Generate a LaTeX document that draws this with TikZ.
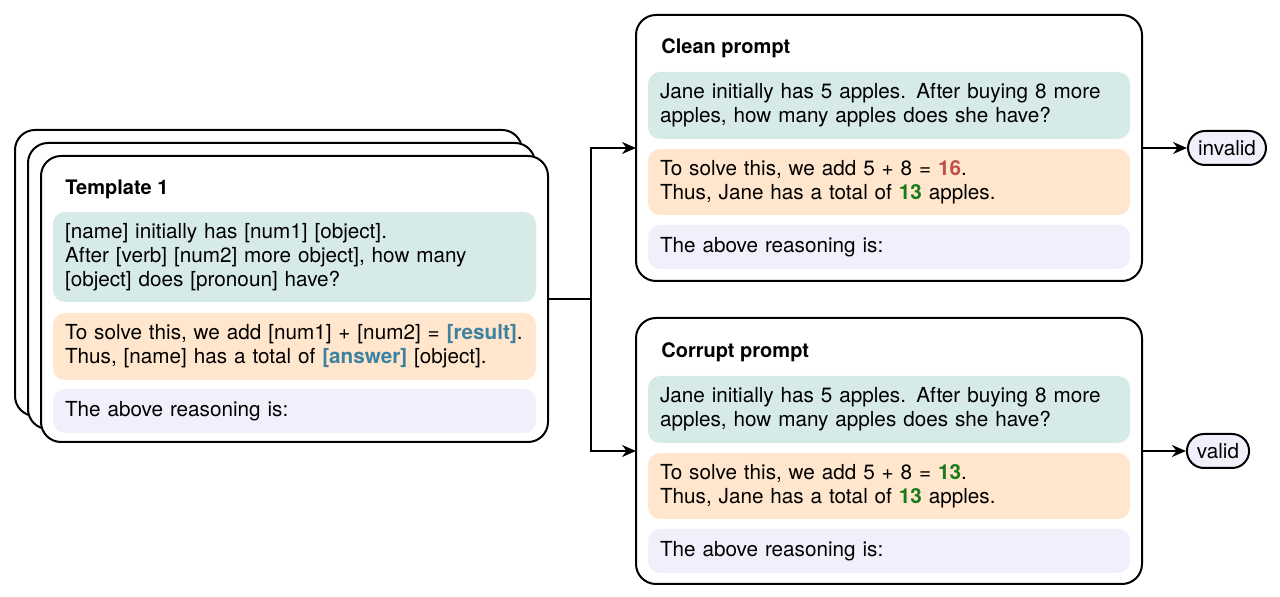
\documentclass[tikz,border=0pt]{standalone}
\usepackage{fontspec}
\setmainfont{TeX Gyre Heros}
\usetikzlibrary{arrows.meta}
\definecolor{qteal}{HTML}{D6EBE8}
\definecolor{qorange}{HTML}{FFE6CC}
\definecolor{qlav}{HTML}{F0F0FC}
\definecolor{qslot}{HTML}{3D82A0}
\definecolor{qred}{HTML}{C0504D}
\definecolor{qgreen}{HTML}{1B7A1B}
\begin{document}
\begin{tikzpicture}[x=0.5pt,y=-0.5pt,font=\fontsize{10.35}{12}\selectfont,
  card/.style = {rectangle,draw=black,line width=1pt,rounded corners=10pt,fill=white,outer sep=0pt},
  field/.style = {rectangle,rounded corners=6pt,text width=229.5pt,inner xsep=6pt,inner ysep=0pt,align=left,outer sep=0pt},
  title/.style = {anchor=west,font=\bfseries,inner sep=0pt},
  verdict/.style = {rectangle,rounded corners=8.5pt,draw=black,line width=1pt,fill=qlav,minimum height=17pt,inner xsep=5pt},
  link/.style = {line width=1pt,-{Stealth[length=7pt,width=6pt]}}]
\useasboundingbox (0,0) rectangle (1280,597);
% stacked templates
\foreach \i in {0,1,2}
    \node[card,minimum width=253.5pt,minimum height=143pt] (tpl\i) at (268.5+13*\i, 273+13*\i) {};
\node[title] (tpltitle) at (65,189) {Template 1};
\node[field,fill=qteal,minimum height=45pt] (tplq) at (294.5,257)
    {[name] initially has [num1] [object].\\After [verb] [num2] more object], how many\\{}[object] does [pronoun] have?};
\node[field,fill=qorange,minimum height=33.5pt] (tpla) at (294.5,346.5)
    {To solve this, we add [num1] + [num2] = \textbf{\color{qslot}[result]}.\\Thus, [name] has a total of \textbf{\color{qslot}[answer]} [object].};
\node[field,fill=qlav,minimum height=22pt] (tplr) at (294.5,411) {The above reasoning is:};
% clean prompt
\node[card,minimum width=253pt,minimum height=133pt] (clean) at (889,148) {};
\node[title] (cleantitle) at (661,48) {Clean prompt};
\node[field,fill=qteal,text width=229pt,minimum height=33.5pt] (cleanq) at (889,105.5)
    {Jane initially has 5 apples. After buying 8 more\\apples, how many apples does she have?};
\node[field,fill=qorange,text width=229pt,minimum height=33pt] (cleana) at (889,182)
    {To solve this, we add 5 + 8 = \textbf{\color{qred}16}.\\Thus, Jane has a total of \textbf{\color{qgreen}13} apples.};
\node[field,fill=qlav,text width=229pt,minimum height=22pt] (cleanr) at (889,247) {The above reasoning is:};
% corrupt prompt
\node[card,minimum width=253pt,minimum height=133pt] (corrupt) at (889,451) {};
\node[title] (corrupttitle) at (661,352) {Corrupt prompt};
\node[field,fill=qteal,text width=229pt,minimum height=33.5pt] (corruptq) at (889,409.5)
    {Jane initially has 5 apples. After buying 8 more\\apples, how many apples does she have?};
\node[field,fill=qorange,text width=229pt,minimum height=33pt] (corrupta) at (889,486)
    {To solve this, we add 5 + 8 = \textbf{\color{qgreen}13}.\\Thus, Jane has a total of \textbf{\color{qgreen}13} apples.};
\node[field,fill=qlav,text width=229pt,minimum height=22pt] (corruptr) at (889,551) {The above reasoning is:};
% verdicts
\node[verdict] (invalid) at (1227,148) {invalid};
\node[verdict] (valid) at (1218,451) {valid};
% connectors
\coordinate (split) at (591,299);
\draw[line width=1pt] (tpl2.east) -- (split);
\draw[link] (split) |- (clean.west);
\draw[link] (split) |- (corrupt.west);
\draw[link] (clean.east) -- (invalid.west);
\draw[link] (corrupt.east) -- (valid.west);
\end{tikzpicture}
\end{document}
